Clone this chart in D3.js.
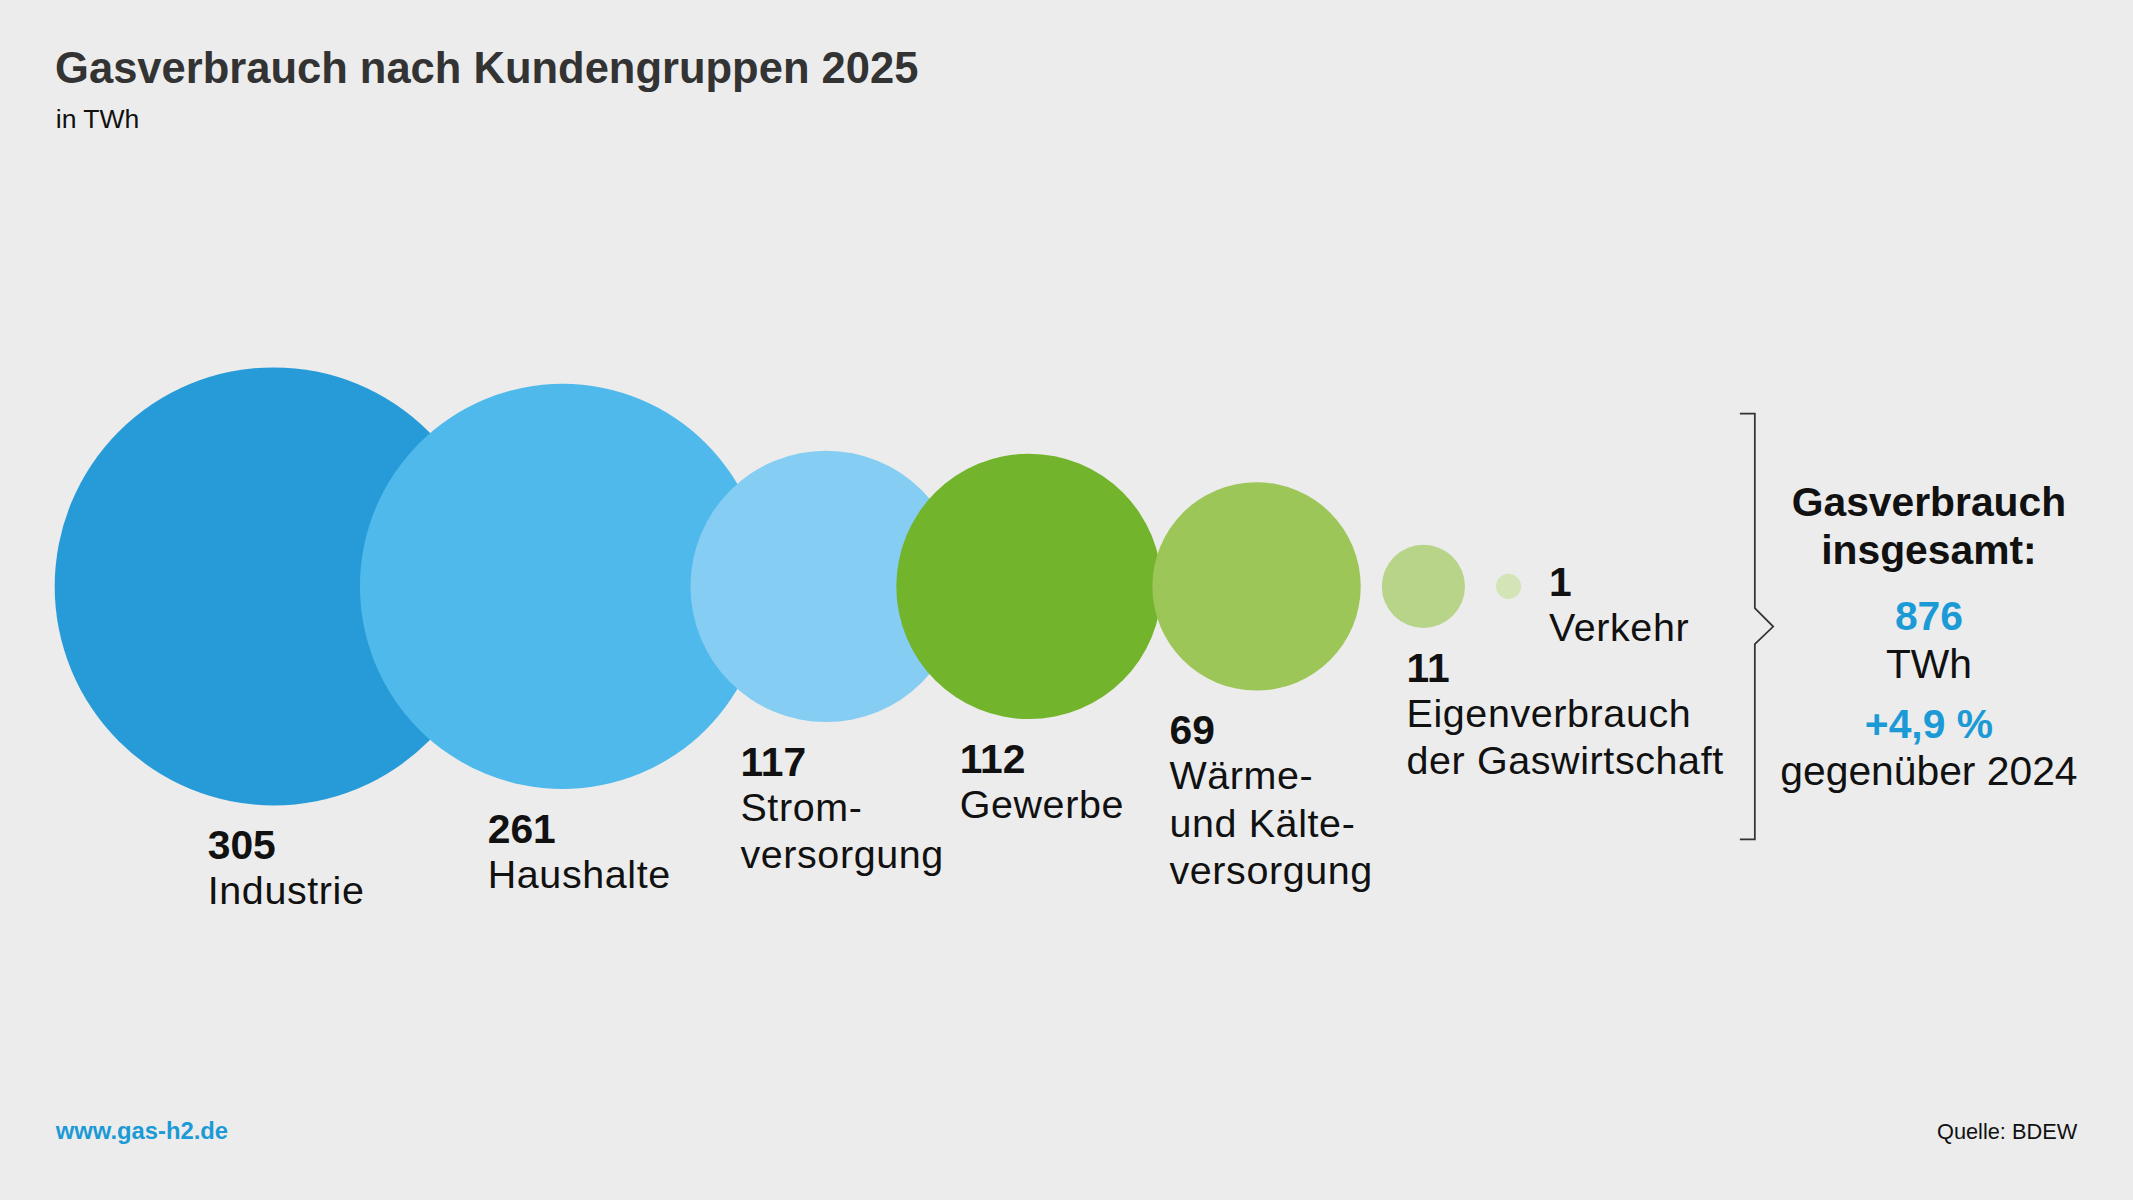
<!DOCTYPE html>
<html>
<head>
<meta charset="utf-8">
<script src="https://cdn.jsdelivr.net/npm/d3@7/dist/d3.min.js"></script>
<style>
  html, body { margin: 0; padding: 0; background: #ececec; }
  svg { display: block; }
  text { font-family: "Liberation Sans", Arial, Helvetica, sans-serif; }
</style>
</head>
<body>
<svg id="chart"></svg>
<script>
// ---------- data ----------
const categories = ["Industrie", "Haushalte", "Stromversorgung", "Gewerbe",
  "Wärme- und Kälteversorgung", "Eigenverbrauch der Gaswirtschaft", "Verkehr"];
const labelLines = [["Industrie"], ["Haushalte"], ["Strom-", "versorgung"], ["Gewerbe"],
  ["Wärme-", "und Kälte-", "versorgung"], ["Eigenverbrauch", "der Gaswirtschaft"], ["Verkehr"]];
const values = [305, 261, 117, 112, 69, 11, 1];
const colors = ["#279bd7", "#50b9eb", "#85cdf3", "#72b42b", "#9dc659", "#b7d489", "#d3e5b7"];
const totalValue = 876;
const totalUnit = "TWh";
const changeText = "+4,9 %";
const changeNote = "gegenüber 2024";
const titleText = "Gasverbrauch nach Kundengruppen 2025";
const subtitleText = "in TWh";
const sourceText = "Quelle: BDEW";
const urlText = "www.gas-h2.de";

// ---------- layout (design units, 1568 x 882 viewBox) ----------
const W = 1568, H = 882;
const svg = d3.select("#chart")
  .attr("width", 2133).attr("height", 1200)
  .attr("viewBox", `0 0 ${W} ${H}`);

svg.append("rect").attr("width", W).attr("height", H).attr("fill", "#ececec");

const r = d3.scaleSqrt().domain([0, d3.max(values)]).range([0, 161]);
const cy = 431;
const startX = 40.2;
// overlap between neighbouring circles (negative = gap)
const overlap = [0, 97.6, 54.9, 48.1, 6.9, -15.5, -22.8];
// horizontal offset of label block from circle centre
const labelDx = [-48.5, -55, -63, -51, -64, -12.4, null];

const nodes = [];
values.forEach((v, i) => {
  const rad = r(v);
  let cx;
  if (i === 0) cx = startX + rad;
  else {
    const p = nodes[i - 1];
    cx = p.cx + p.r + rad - overlap[i];
  }
  nodes.push({ name: categories[i], lines: labelLines[i], value: v, r: rad, cx, color: colors[i], i });
});

const g = svg.append("g");
g.selectAll("circle").data(nodes).join("circle")
  .attr("cx", d => d.cx).attr("cy", cy).attr("r", d => d.r)
  .attr("fill", d => d.color);

// labels: one multi-line text per category
const labels = g.selectAll("text.lab").data(nodes).join("text").attr("class", "lab")
  .attr("fill", "#111")
  .attr("transform", d => {
    if (d.i === nodes.length - 1) return `translate(${d.cx + d.r + 20.5},${cy + 7})`;
    return `translate(${d.cx + labelDx[d.i]},${cy + d.r + 39.5})`;
  });
labels.append("tspan").attr("x", 0).attr("y", 0)
  .attr("font-weight", "bold").attr("font-size", 30).text(d => d.value);
labels.each(function (d) {
  d3.select(this).selectAll("tspan.nm").data(d.lines).join("tspan").attr("class", "nm")
    .attr("x", 0).attr("y", (l, j) => 33 + 35 * j)
    .attr("font-size", 29).attr("letter-spacing", 0.45)
    .text(l => l);
});

// bracket
const bx = 1290, bTop = 304, bBot = 617, bMid = 460.5;
const path = d3.path();
path.moveTo(bx - 11, bTop); path.lineTo(bx, bTop);
path.lineTo(bx, bMid - 13.5); path.lineTo(bx + 13.5, bMid); path.lineTo(bx, bMid + 13);
path.lineTo(bx, bBot); path.lineTo(bx - 11, bBot);
svg.append("path").attr("d", path.toString())
  .attr("fill", "none").attr("stroke", "#333").attr("stroke-width", 1.3);

// total block
const tx = 1418;
const tb = svg.append("g").attr("text-anchor", "middle");
tb.append("text").attr("x", tx).attr("y", 379.5).attr("font-size", 30).attr("font-weight", "bold").attr("fill", "#111").text("Gasverbrauch");
tb.append("text").attr("x", tx).attr("y", 414.5).attr("font-size", 30).attr("font-weight", "bold").attr("fill", "#111").text("insgesamt:");
tb.append("text").attr("x", tx).attr("y", 463).attr("font-size", 30).attr("font-weight", "bold").attr("fill", "#1b9ad6").text(totalValue);
tb.append("text").attr("x", tx).attr("y", 498.5).attr("font-size", 30).attr("fill", "#111").text(totalUnit);
tb.append("text").attr("x", tx).attr("y", 542.5).attr("font-size", 30).attr("font-weight", "bold").attr("fill", "#1b9ad6").text(changeText);
tb.append("text").attr("x", tx).attr("y", 577).attr("font-size", 30).attr("fill", "#111").text(changeNote);

// title
svg.append("text").attr("x", 40.5).attr("y", 61).attr("font-size", 32).attr("font-weight", "bold")
  .attr("fill", "#333").text(titleText);
svg.append("text").attr("x", 41).attr("y", 94).attr("font-size", 19.5)
  .attr("fill", "#111").text(subtitleText);

// footer
svg.append("text").attr("x", 41).attr("y", 837).attr("font-size", 17.5).attr("font-weight", "bold")
  .attr("fill", "#1b9ad6").text(urlText);
svg.append("text").attr("x", 1527).attr("y", 837).attr("font-size", 16).attr("text-anchor", "end")
  .attr("fill", "#111").text(sourceText);
</script>
</body>
</html>
